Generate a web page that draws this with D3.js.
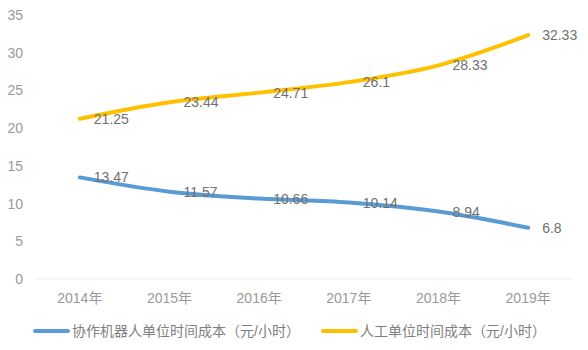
<!DOCTYPE html>
<html>
<head>
<meta charset="utf-8">
<script src="https://cdn.jsdelivr.net/npm/d3@7"></script>
<style>
  body { margin: 0; background: #fff; }
  svg { font-family: "Liberation Sans", "Noto Sans CJK SC", sans-serif; }
</style>
</head>
<body>
<div id="chart"></div>
<script>
var years = ["2014年", "2015年", "2016年", "2017年", "2018年", "2019年"];
var robotCost = [13.47, 11.57, 10.66, 10.14, 8.94, 6.8];
var laborCost = [21.25, 23.44, 24.71, 26.1, 28.33, 32.33];
var yTicks = [0, 5, 10, 15, 20, 25, 30, 35];
var seriesNames = ["协作机器人单位时间成本（元/小时）", "人工单位时间成本（元/小时）"];

function init() {
    var w = 588;
    var h = 350;
    var colors = ["#5b9bd5", "#ffc000"];

    var svg = d3.select("#chart")
                .append("svg")
                .attr("width", w)
                .attr("height", h);

    var x = d3.scaleBand()
              .domain(years)
              .range([35, 573]);

    var y = d3.scaleLinear()
              .domain([0, 35])
              .range([279, 15]);

    // baseline
    svg.append("line")
       .attr("x1", 35).attr("x2", 573)
       .attr("y1", y(0)).attr("y2", y(0))
       .attr("stroke", "#eeeeee")
       .attr("stroke-width", 1);

    // y labels
    svg.selectAll("text.ytick")
       .data(yTicks)
       .enter()
       .append("text")
       .attr("class", "ytick")
       .attr("x", 23)
       .attr("y", function(d) { return y(d) + 5; })
       .attr("text-anchor", "end")
       .attr("font-size", 14)
       .attr("fill", "#999999")
       .text(function(d) { return d; });

    // x labels
    svg.selectAll("text.xtick")
       .data(years)
       .enter()
       .append("text")
       .attr("class", "xtick")
       .attr("x", function(d) { return x(d) + x.bandwidth() / 2; })
       .attr("y", 303)
       .attr("text-anchor", "middle")
       .attr("font-size", 14)
       .attr("fill", "#999999")
       .text(function(d) { return d; });

    var line = d3.line()
                 .x(function(d, i) { return x(years[i]) + x.bandwidth() / 2; })
                 .y(function(d) { return y(d); })
                 .curve(d3.curveMonotoneX);

    var all = [robotCost, laborCost];
    all.forEach(function(series, k) {
        svg.append("path")
           .attr("d", line(series))
           .attr("fill", "none")
           .attr("stroke", colors[k])
           .attr("stroke-width", 4)
           .attr("stroke-linecap", "round");

        svg.selectAll("text.lab" + k)
           .data(series)
           .enter()
           .append("text")
           .attr("class", "lab" + k)
           .attr("x", function(d, i) { return x(years[i]) + x.bandwidth() / 2 + 14; })
           .attr("y", function(d) { return y(d) + 5; })
           .attr("font-size", 14)
           .attr("fill", "#707070")
           .text(function(d) { return d; });
    });

    // legend
    var legendX = [35, 323];
    seriesNames.forEach(function(name, k) {
        svg.append("line")
           .attr("x1", legendX[k]).attr("x2", legendX[k] + 33)
           .attr("y1", 331).attr("y2", 331)
           .attr("stroke", colors[k])
           .attr("stroke-width", 4)
           .attr("stroke-linecap", "round");
        svg.append("text")
           .attr("x", legendX[k] + 37)
           .attr("y", 336)
           .attr("font-size", 14)
           .attr("fill", "#808080")
           .text(name);
    });
}
window.onload = init;
</script>
</body>
</html>
